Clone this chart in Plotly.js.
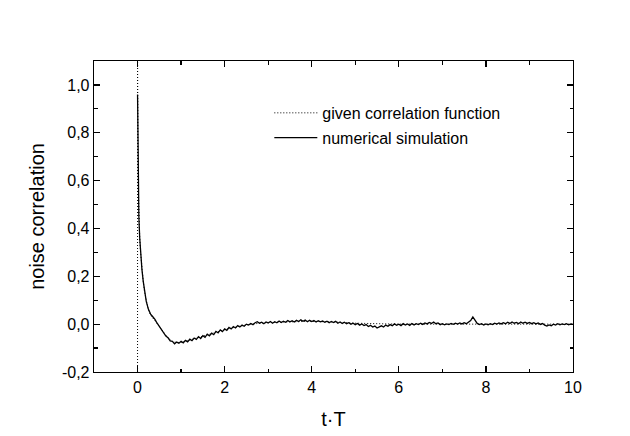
<!DOCTYPE html>
<html>
<head>
<meta charset="utf-8">
<script src="https://cdn.plot.ly/plotly-3.0.1.min.js"></script>
<style>html,body{margin:0;padding:0;background:#fff;}#chart{width:630px;height:436px;}</style>
</head>
<body>
<div id="chart"></div>
<script>
// ---- data ----
var simTimes = [0, 0.01, 0.02, 0.03, 0.05, 0.07, 0.10, 0.13, 0.16, 0.20, 0.25,
  0.30, 0.35, 0.40, 0.45, 0.50, 0.55, 0.60, 0.65, 0.70, 0.75, 0.80, 0.85, 0.90, 0.95,
  1.00, 1.05, 1.10, 1.15, 1.20, 1.25, 1.30, 1.35, 1.40, 1.45, 1.50, 1.55, 1.60, 1.65, 1.70, 1.75, 1.80, 1.85, 1.90, 1.95,
  2.00, 2.05, 2.10, 2.15, 2.20, 2.25, 2.30, 2.35, 2.40, 2.45, 2.50, 2.55, 2.60, 2.65, 2.70, 2.75, 2.80, 2.85, 2.90, 2.95,
  3.00, 3.05, 3.10, 3.15, 3.20, 3.25, 3.30, 3.35, 3.40, 3.45, 3.50, 3.55, 3.60, 3.65, 3.70, 3.75, 3.80, 3.85, 3.90, 3.95,
  4.00, 4.05, 4.10, 4.15, 4.20, 4.25, 4.30, 4.35, 4.40, 4.45, 4.50, 4.55, 4.60, 4.65, 4.70, 4.75, 4.80, 4.85, 4.90, 4.95,
  5.00, 5.05, 5.10, 5.15, 5.20, 5.25, 5.30, 5.35, 5.40, 5.45, 5.50, 5.55, 5.60, 5.65, 5.70, 5.75, 5.80, 5.85, 5.90, 5.95,
  6.00, 6.05, 6.10, 6.15, 6.20, 6.25, 6.30, 6.35, 6.40, 6.45, 6.50, 6.55, 6.60, 6.65, 6.70, 6.75, 6.80, 6.85, 6.90, 6.95,
  7.00, 7.05, 7.10, 7.15, 7.20, 7.25, 7.30, 7.35, 7.40, 7.45, 7.50, 7.55, 7.60, 7.65, 7.70, 7.75, 7.80, 7.85, 7.90, 7.95,
  8.00, 8.05, 8.10, 8.15, 8.20, 8.25, 8.30, 8.35, 8.40, 8.45, 8.50, 8.55, 8.60, 8.65, 8.70, 8.75, 8.80, 8.85, 8.90, 8.95,
  9.00, 9.05, 9.10, 9.15, 9.20, 9.25, 9.30, 9.35, 9.40, 9.45, 9.50, 9.55, 9.60, 9.65, 9.70, 9.75, 9.80, 9.85, 9.90, 9.95,
  10.00];
var simValues = [0.960, 0.700, 0.550, 0.450, 0.360, 0.300, 0.230, 0.180, 0.135, 0.095, 0.062,
  0.042, 0.031, 0.020, 0.004, -0.010, -0.024, -0.036, -0.050, -0.057, -0.070, -0.072, -0.082, -0.075, -0.080,
  -0.072, -0.078, -0.068, -0.074, -0.063, -0.069, -0.058, -0.064, -0.052, -0.060, -0.048, -0.055, -0.042, -0.049, -0.038, -0.044, -0.030, -0.036, -0.024, -0.031,
  -0.020, -0.026, -0.014, -0.020, -0.010, -0.016, -0.006, -0.012, -0.004, -0.009, 0.000, -0.004, 0.003, -0.002, 0.006, 0.010, 0.004, 0.008, 0.002, 0.009,
  0.005, 0.011, 0.004, 0.010, 0.006, 0.013, 0.007, 0.012, 0.008, 0.015, 0.010, 0.014, 0.009, 0.016, 0.011, 0.018, 0.012, 0.017, 0.010, 0.016,
  0.011, 0.015, 0.009, 0.014, 0.010, 0.013, 0.008, 0.012, 0.006, 0.011, 0.007, 0.012, 0.004, 0.009, 0.003, 0.008, 0.002, 0.006, 0.000, 0.004,
  -0.002, 0.003, -0.004, 0.001, -0.006, -0.002, -0.010, -0.005, -0.012, -0.008, -0.016, -0.011, -0.007, -0.012, -0.004, -0.009, -0.002, -0.007, 0.001, -0.005,
  0.000, -0.006, 0.002, -0.004, 0.001, -0.005, 0.003, -0.003, 0.002, -0.002, 0.004, -0.001, 0.005, 0.001, 0.007, 0.003, 0.009, 0.002, 0.005, -0.002,
  0.002, -0.003, 0.001, -0.002, 0.003, -0.001, 0.004, 0.000, 0.005, 0.001, 0.006, 0.002, 0.007, 0.015, 0.030, 0.016, 0.003, -0.002, 0.002, -0.004,
  0.001, -0.003, 0.002, -0.002, 0.004, 0.000, 0.005, 0.001, 0.006, 0.002, 0.008, 0.003, 0.009, 0.004, 0.007, 0.002, 0.009, 0.004, 0.008, 0.003,
  0.007, 0.002, 0.006, 0.001, 0.005, -0.001, 0.003, -0.004, -0.008, -0.003, -0.007, 0.000, -0.004, 0.002, -0.003, 0.001, -0.002, 0.002, -0.003, 0.001,
  -0.001];

var givenTimes = [0, 0, 0.01, 0.02, 0.03, 0.05, 0.07, 0.10, 0.13, 0.16, 0.20, 0.25, 0.30, 0.40, 0.50, 0.60, 0.70, 0.80, 0.90,
  1.00, 1.20, 1.40, 1.60, 1.80, 2.00, 2.30, 2.60, 3.00, 3.50, 4.00, 4.50, 5.00, 6.00, 7.00, 8.00, 9.00, 10.00];
var givenValues = [-0.2, 1.1, 0.700, 0.550, 0.450, 0.360, 0.300, 0.230, 0.180, 0.135, 0.095, 0.060, 0.038, 0.013, -0.012, -0.038, -0.058, -0.072, -0.077,
  -0.076, -0.067, -0.056, -0.045, -0.034, -0.023, -0.010, 0.000, 0.007, 0.011, 0.012, 0.009, 0.004, 0.000, 0.000, 0.000, 0.000, 0.000];

var xTickVals = [0, 2, 4, 6, 8, 10];
var xTickText = ['0', '2', '4', '6', '8', '10'];
var xMinorVals = [-1, 1, 3, 5, 7, 9];
var yTickVals = [-0.2, 0, 0.2, 0.4, 0.6, 0.8, 1.0];
var yTickText = ['-0,2', '0,0', '0,2', '0,4', '0,6', '0,8', '1,0'];
var yMinorVals = [-0.1, 0.1, 0.3, 0.5, 0.7, 0.9, 1.1];

var FONT = 'Liberation Sans, Arial, Helvetica, sans-serif';

var traces = [
  {x: givenTimes, y: givenValues, mode: 'lines', name: 'given correlation function',
   line: {color: '#000', width: 1, dash: '1px,2px'}, legend: 'legend'},
  {x: simTimes, y: simValues, mode: 'lines', name: 'numerical simulation',
   line: {color: '#000', width: 1.3}, legend: 'legend2'}
];

var axisCommon = {
  showline: true, linecolor: '#000', linewidth: 1.3, mirror: 'ticks',
  ticks: 'inside', ticklen: 6, tickwidth: 1.2, tickcolor: '#000',
  showgrid: false, zeroline: false,
  tickfont: {family: FONT, size: 16, color: '#000'}
};

var layout = {
  width: 630, height: 436,
  margin: {l: 94, r: 57, t: 61, b: 64},
  paper_bgcolor: '#fff', plot_bgcolor: '#fff',
  font: {family: FONT, color: '#000'},
  xaxis: Object.assign({}, axisCommon, {
    range: [-1, 10], tickmode: 'array', tickvals: xTickVals, ticktext: xTickText,
    minor: {tickmode: 'array', tickvals: xMinorVals, ticks: 'inside', ticklen: 3.5, tickwidth: 1.2, tickcolor: '#000', showgrid: false},
    title: {text: 't\u00B7T', font: {family: FONT, size: 20, color: '#000'}, standoff: 17}
  }),
  yaxis: Object.assign({}, axisCommon, {
    range: [-0.2, 1.1], tickmode: 'array', tickvals: yTickVals, ticktext: yTickText,
    minor: {tickmode: 'array', tickvals: yMinorVals, ticks: 'inside', ticklen: 3.5, tickwidth: 1.2, tickcolor: '#000', showgrid: false},
    title: {text: 'noise correlation', font: {family: FONT, size: 20, color: '#000'}, standoff: 12}
  }),
  showlegend: true,
  legend: {x: 0.366, y: 0.833, xanchor: 'left', yanchor: 'middle', bgcolor: 'rgba(0,0,0,0)',
    font: {family: FONT, size: 16, color: '#000'}, itemwidth: 43},
  legend2: {x: 0.366, y: 0.753, xanchor: 'left', yanchor: 'middle', bgcolor: 'rgba(0,0,0,0)',
    font: {family: FONT, size: 16, color: '#000'}, itemwidth: 43}
};

Plotly.newPlot('chart', traces, layout, {displayModeBar: false, staticPlot: true});
</script>
</body>
</html>
